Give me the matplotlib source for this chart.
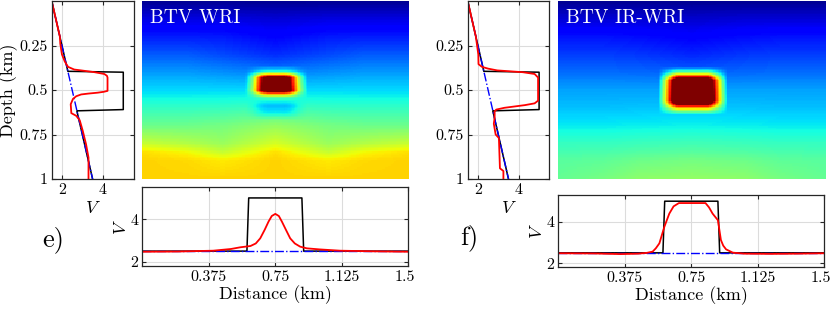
import numpy as np
import matplotlib
matplotlib.use("Agg")
import matplotlib.pyplot as plt
from matplotlib.transforms import ScaledTranslation

plt.rcParams["font.family"] = "serif"
plt.rcParams["font.serif"] = ["cmr10", "DejaVu Serif"]
plt.rcParams["mathtext.fontset"] = "cm"
plt.rcParams["axes.formatter.use_mathtext"] = True

# ── true model (black) and background (blue), depth profile at x = 0.75 km
true_z = [0.0, 0.395, 0.40, 0.61, 0.617, 1.0]
true_v = [1.5, 2.29, 5.0, 5.0, 2.73, 3.5]
bg_z = [0.0, 1.0]
bg_v = [1.5, 3.5]

# ── true model and background, lateral profile at z = 0.5 km
true_d = [0.0, 0.59, 0.60, 0.90, 0.91, 1.5]
true_dv = [2.5, 2.5, 5.0, 5.0, 2.5, 2.5]
bg_d = [0.0, 1.5]
bg_dv = [2.5, 2.5]

# ── BTV WRI estimate (red)
wri_z = [0.0, 0.1, 0.2, 0.24, 0.30, 0.34, 0.37, 0.385, 0.39, 0.40, 0.41, 0.42, 0.43,
         0.505, 0.51, 0.515, 0.52, 0.525, 0.535, 0.55, 0.58, 0.63, 0.645, 0.67,
         0.73, 0.805, 0.88, 1.0]
wri_v = [1.5, 1.7, 1.9, 1.92, 2.0, 2.14, 2.3, 2.6, 2.94, 3.6, 4.07, 4.2, 4.23,
         4.23, 4.05, 3.75, 3.3, 2.94, 2.7, 2.54, 2.43, 2.46, 2.70, 2.87,
         3.02, 3.18, 3.3, 3.3]
wri_d = [0.0, 0.2, 0.4, 0.5, 0.553, 0.61, 0.64, 0.665, 0.69, 0.712, 0.73, 0.75,
         0.77, 0.787, 0.81, 0.834, 0.86, 0.89, 0.928, 1.0, 1.115, 1.3, 1.5]
wri_dv = [2.47, 2.48, 2.52, 2.6, 2.68, 2.74, 2.86, 3.1, 3.5, 3.89, 4.15, 4.25,
          4.15, 3.89, 3.5, 3.1, 2.86, 2.71, 2.63, 2.58, 2.52, 2.49, 2.47]

# ── BTV IR-WRI estimate (red)
irwri_z = [0.0, 0.1, 0.2, 0.3, 0.355, 0.37, 0.38, 0.39, 0.40, 0.41, 0.43, 0.56,
           0.575, 0.585, 0.60, 0.61, 0.62, 0.655, 0.69, 0.75, 0.77, 0.94, 0.955, 1.0]
irwri_v = [1.5, 1.7, 1.9, 2.02, 2.03, 2.2, 2.5, 2.95, 4.2, 4.78, 4.95, 4.95,
           4.78, 4.3, 3.3, 2.9, 2.82, 2.82, 2.78, 2.87, 3.03, 3.08, 3.25, 3.25]
irwri_d = [0.0, 0.2, 0.35, 0.45, 0.5, 0.532, 0.55, 0.57, 0.598, 0.626, 0.65, 0.68,
           0.83, 0.85, 0.87, 0.9, 0.917, 0.93, 0.946, 0.984, 1.05, 1.2, 1.35, 1.5]
irwri_dv = [2.48, 2.47, 2.44, 2.46, 2.5, 2.56, 2.72, 2.96, 3.76, 4.4, 4.75, 4.91,
            4.91, 4.7, 4.4, 4.08, 3.12, 2.85, 2.67, 2.51, 2.46, 2.45, 2.46, 2.48]

# ── image backgrounds read on a coarse grid (km/s)
img_z = [0.0, 0.1, 0.2, 0.3, 0.4, 0.5, 0.6, 0.7, 0.8, 0.85, 0.9, 1.0]
img_d = [0.0, 0.25, 0.45, 0.75, 1.05, 1.25, 1.5]
img_bg_wri = [
    [1.55, 1.55, 1.55, 1.55, 1.55, 1.55, 1.55],
    [1.75, 1.75, 1.75, 1.72, 1.75, 1.75, 1.75],
    [1.93, 1.93, 1.92, 1.85, 1.92, 1.93, 1.93],
    [2.10, 2.10, 2.05, 1.97, 2.05, 2.10, 2.10],
    [2.28, 2.28, 2.25, 2.20, 2.25, 2.28, 2.28],
    [2.45, 2.45, 2.45, 2.45, 2.45, 2.45, 2.45],
    [2.65, 2.65, 2.66, 2.70, 2.66, 2.65, 2.65],
    [2.85, 2.85, 2.88, 2.98, 2.88, 2.85, 2.85],
    [3.15, 3.08, 3.00, 3.20, 3.00, 3.08, 3.15],
    [3.38, 3.30, 3.15, 3.38, 3.15, 3.30, 3.38],
    [3.42, 3.40, 3.35, 3.42, 3.35, 3.40, 3.42],
    [3.42, 3.42, 3.42, 3.42, 3.42, 3.42, 3.42],
]
img_bg_irwri = [
    [1.55, 1.55, 1.55, 1.55, 1.55, 1.55, 1.55],
    [1.72, 1.72, 1.72, 1.70, 1.72, 1.72, 1.72],
    [1.90, 1.90, 1.88, 1.84, 1.88, 1.90, 1.90],
    [2.02, 2.02, 2.00, 1.95, 2.00, 2.02, 2.02],
    [2.15, 2.15, 2.14, 2.12, 2.14, 2.15, 2.15],
    [2.30, 2.30, 2.30, 2.30, 2.30, 2.30, 2.30],
    [2.38, 2.38, 2.39, 2.40, 2.39, 2.38, 2.38],
    [2.50, 2.50, 2.51, 2.52, 2.51, 2.50, 2.50],
    [2.66, 2.66, 2.68, 2.70, 2.68, 2.66, 2.66],
    [2.72, 2.73, 2.76, 2.78, 2.76, 2.73, 2.72],
    [2.78, 2.80, 2.85, 2.88, 2.85, 2.80, 2.78],
    [2.82, 2.88, 2.96, 2.98, 2.96, 2.88, 2.82],
]
# inclusion in the images: vertical amplitude and lateral weight
blob_z_wri = [0.36, 0.39, 0.41, 0.43, 0.50, 0.52, 0.54, 0.555, 0.59, 0.63, 0.67]
blob_a_wri = [0.0, 0.3, 1.2, 2.3, 2.3, 1.2, 0.3, 0.0, -0.3, -0.27, 0.0]
blob_d_wri = [0.58, 0.62, 0.65, 0.68, 0.71, 0.80, 0.83, 0.86, 0.89, 0.93]
blob_w_wri = [0.0, 0.25, 0.6, 0.88, 1.0, 1.0, 0.88, 0.6, 0.25, 0.0]
blob_z_irwri = [0.37, 0.39, 0.41, 0.43, 0.45, 0.56, 0.58, 0.60, 0.62, 0.64]
blob_a_irwri = [0.0, 0.5, 1.2, 2.1, 2.8, 2.8, 2.1, 1.2, 0.5, 0.0]
blob_d_irwri = [0.56, 0.585, 0.61, 0.64, 0.67, 0.84, 0.87, 0.90, 0.925, 0.95]
blob_w_irwri = [0.0, 0.2, 0.45, 0.75, 1.0, 1.0, 0.75, 0.45, 0.2, 0.0]

VMIN, VMAX = 1.5, 4.3
W, H = 830.0, 309.0


def px_axes(fig, x0, y0, x1, y1):
    return fig.add_axes([x0 / W, 1 - y1 / H, (x1 - x0) / W, (y1 - y0) / H])


def style(ax):
    ax.grid(True, color="#dcdcdc", lw=0.8)
    ax.set_axisbelow(True)
    ax.tick_params(direction="in", top=True, right=True, length=3,
                   labelsize=11.5, color="#262626", pad=3)
    for s in ax.spines.values():
        s.set_color("#262626")
        s.set_linewidth(0.9)


def build_image(bg, bz, ba, bd, bw):
    z = np.linspace(0, 1, 121)
    d = np.linspace(0, 1.5, 181)
    rows = np.array([np.interp(d, img_d, r) for r in bg])
    field = np.array([np.interp(z, img_z, rows[:, j]) for j in range(len(d))]).T
    return field + np.outer(np.interp(z, bz, ba), np.interp(d, bd, bw))


def panel(fig, xs, bottom_y, rz, rv, rd, rdv, bg, blob, title, letter, ylabel):
    xp0, xp1, xi0, xi1, xb1 = xs
    ax = px_axes(fig, xp0, 1, xp1, 179)
    ax.plot(true_v, true_z, color="k", lw=1.1)
    ax.plot(bg_v, bg_z, color="b", lw=1.0, ls="-.")
    ax.plot(rv, rz, color="r", lw=1.3)
    ax.set_xlim(1.5, 5.5)
    ax.set_ylim(1, 0)
    ax.set_xticks([2, 4])
    ax.set_xticklabels(["2", "4"])
    ax.set_yticks([0.25, 0.5, 0.75, 1])
    ax.set_yticklabels(["0.25", "0.5", "0.75", "1"])
    ax.set_xlabel("$V$", fontsize=13, labelpad=2)
    if ylabel:
        ax.set_ylabel("Depth (km)", fontsize=13, labelpad=1)
    style(ax)

    ax = px_axes(fig, xi0, 1, xi1, 179)
    img = build_image(bg, *blob)
    ax.imshow(img, cmap="jet", vmin=VMIN, vmax=VMAX, aspect="auto",
              extent=[0, 1.5, 1, 0], interpolation="nearest")
    ax.set_axis_off()
    ax.text(0.03, 0.955, title, transform=ax.transAxes, color="white",
            fontsize=14, va="top", ha="left")

    ax = px_axes(fig, xi0, bottom_y[0], xb1, bottom_y[1])
    ax.plot(true_d, true_dv, color="k", lw=1.1)
    ax.plot(bg_d, bg_dv, color="b", lw=1.0, ls="-.")
    ax.plot(rd, rdv, color="r", lw=1.3)
    ax.set_xlim(0, 1.5)
    ax.set_ylim(1.8, bottom_y[2])
    ax.set_xticks([0.375, 0.75, 1.125, 1.5])
    ax.set_xticklabels(["0.375", "0.75", "1.125", "1.5"])
    ax.set_yticks([2, 4])
    ax.set_yticklabels(["2", "4"])
    ax.set_xlabel("Distance (km)", fontsize=13, labelpad=1)
    ax.set_ylabel("$V$", fontsize=13, labelpad=1)
    style(ax)
    last = ax.get_xticklabels()[-1]
    last.set_transform(last.get_transform()
                       + ScaledTranslation(-4 / 100, 0, fig.dpi_scale_trans))
    fig.text(letter[1] / W, 1 - letter[2] / H, letter[0], fontsize=19,
             ha="left", va="center")


fig = plt.figure(figsize=(8.3, 3.09), dpi=100)

panel(fig, (51.7, 133.5, 142.3, 409.0, 408.3), (187.3, 266.0, 5.5),
      wri_z, wri_v, wri_d, wri_dv, img_bg_wri,
      (blob_z_wri, blob_a_wri, blob_d_wri, blob_w_wri),
      "BTV WRI", ("e)", 42, 240), True)
panel(fig, (467.7, 549.3, 558.3, 825.7, 824.3), (195.0, 267.3, 5.3),
      irwri_z, irwri_v, irwri_d, irwri_dv, img_bg_irwri,
      (blob_z_irwri, blob_a_irwri, blob_d_irwri, blob_w_irwri),
      "BTV IR-WRI", ("f)", 460, 238), False)

fig.savefig("out.png", dpi=100)
